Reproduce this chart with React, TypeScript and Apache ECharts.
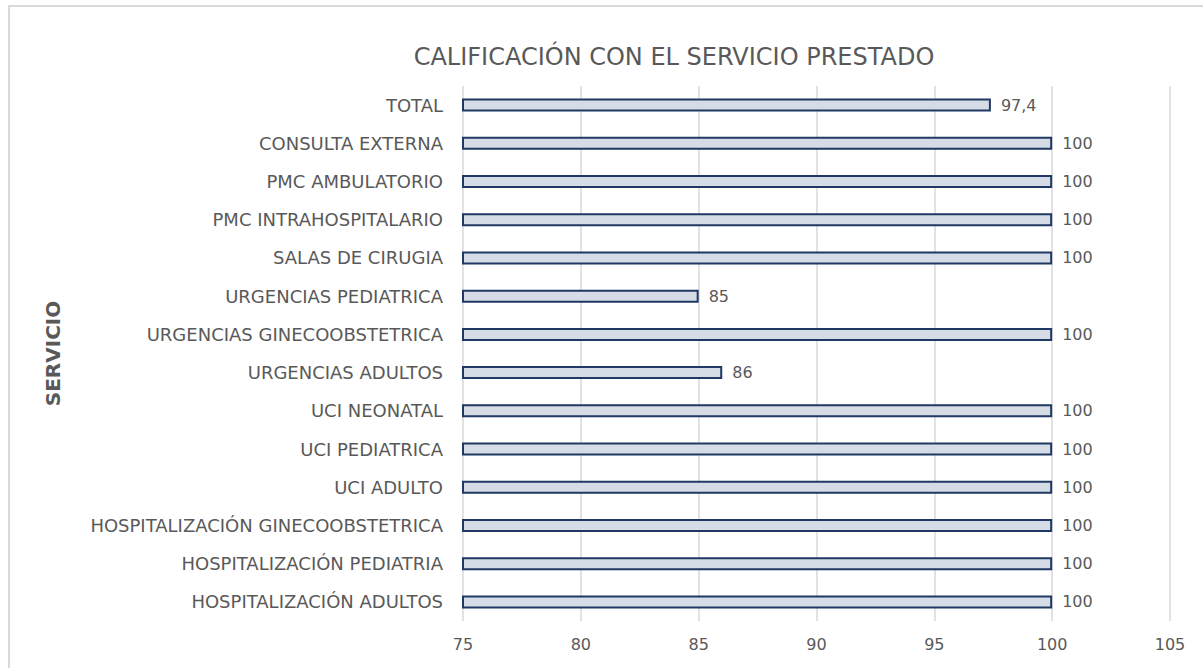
import React, { useEffect, useRef } from "react";
import * as echarts from "echarts";

const categories = [
  "TOTAL",
  "CONSULTA EXTERNA",
  "PMC AMBULATORIO",
  "PMC INTRAHOSPITALARIO",
  "SALAS DE CIRUGIA",
  "URGENCIAS PEDIATRICA",
  "URGENCIAS GINECOOBSTETRICA",
  "URGENCIAS ADULTOS",
  "UCI NEONATAL",
  "UCI PEDIATRICA",
  "UCI ADULTO",
  "HOSPITALIZACIÓN GINECOOBSTETRICA",
  "HOSPITALIZACIÓN PEDIATRIA",
  "HOSPITALIZACIÓN ADULTOS",
];
const values = [97.4, 100, 100, 100, 100, 85, 100, 86, 100, 100, 100, 100, 100, 100];
const xMin = 75;
const xMax = 105;
const xStep = 5;

const FONT = "DejaVu Sans";

export default function App() {
  const ref = useRef<HTMLDivElement>(null);
  useEffect(() => {
    if (!ref.current) return;
    const chart = echarts.init(ref.current, null, { renderer: "svg" });
    chart.setOption({
      animation: false,
      backgroundColor: "#ffffff",
      title: {
        text: "CALIFICACIÓN CON EL SERVICIO PRESTADO",
        left: 661,
        top: 35,
        textAlign: "center",
        textStyle: { fontFamily: FONT, fontSize: 24, fontWeight: "normal", color: "#595959" },
      },
      graphic: [
        { type: "line", shape: { x1: 1, y1: 0, x2: 1, y2: 700 }, style: { stroke: "#d9d9d9", lineWidth: 2 } },
        { type: "line", shape: { x1: 0, y1: 1, x2: 1300, y2: 1 }, style: { stroke: "#d9d9d9", lineWidth: 2 } },
      ],
      grid: { left: 455, top: 81, right: 1195 - 1162, bottom: 663 - 616, containLabel: false },
      xAxis: {
        type: "value",
        min: xMin,
        max: xMax,
        interval: xStep,
        axisLine: { show: false },
        axisTick: { show: false },
        splitLine: { show: true, lineStyle: { color: "#d9d9d9", width: 1.5 } },
        axisLabel: { fontFamily: FONT, fontSize: 16, color: "#595959", margin: 15 },
      },
      yAxis: {
        type: "category",
        data: categories,
        inverse: true,
        name: "SERVICIO",
        nameLocation: "middle",
        nameGap: 400,
        nameRotate: 90,
        nameTextStyle: { fontFamily: FONT, fontSize: 20, fontWeight: "bold", color: "#595959" },
        axisLine: { show: false },
        axisTick: { show: false },
        axisLabel: { fontFamily: FONT, fontSize: 18, color: "#595959", margin: 20 },
      },
      series: [
        {
          type: "bar",
          data: values,
          barWidth: 13,
          itemStyle: { color: "#d6dce5", borderColor: "#203864", borderWidth: 2 },
          label: {
            show: true,
            position: "right",
            distance: 10,
            fontFamily: FONT,
            fontSize: 16,
            color: "#595959",
            formatter: (p: any) => String(p.value).replace(".", ","),
          },
        },
      ],
    });
    return () => chart.dispose();
  }, []);
  return (
    <div
      ref={ref}
      style={{ position: "absolute", left: 8, top: 5, width: 1195, height: 663 }}
    />
  );
}
